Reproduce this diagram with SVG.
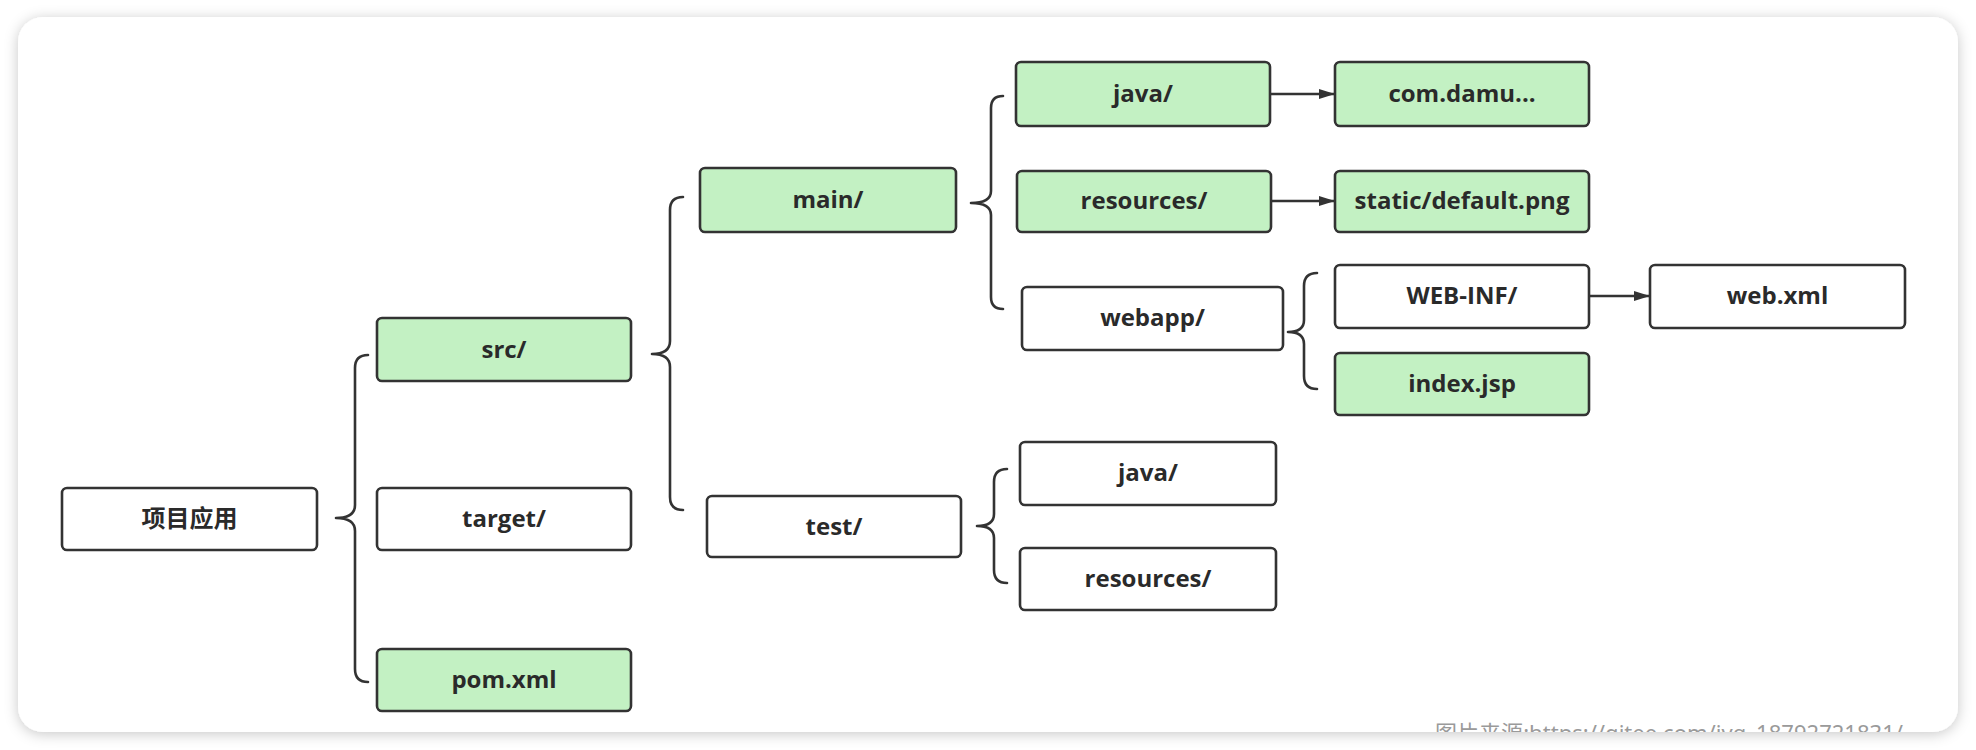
<svg xmlns="http://www.w3.org/2000/svg" width="1976" height="750" viewBox="0 0 1976 750">
<style>
.box{stroke:#333;stroke-width:2.6;}
.g{fill:#c3f1c3;}
.w{fill:#ffffff;}
.lbl{font-family:"Open Sans","Noto Sans","Noto Sans CJK SC",sans-serif;font-weight:700;font-size:24px;fill:#2a2a2a;text-anchor:middle;}
.br{fill:none;stroke:#333;stroke-width:2.6;stroke-linecap:round;stroke-linejoin:round;}
.ar{fill:none;stroke:#333;stroke-width:2.4;}
.wm{font-family:"Noto Sans","Noto Sans CJK SC",sans-serif;font-size:22px;fill:#9a9a9a;}
</style>
<defs>
<filter id="sh" x="-5%" y="-10%" width="110%" height="120%">
<feDropShadow dx="0" dy="2" stdDeviation="7" flood-color="#000" flood-opacity="0.22"/>
</filter>
<clipPath id="cardclip"><rect x="18" y="17" width="1940" height="715" rx="25"/></clipPath>
<marker id="arr" markerWidth="16" markerHeight="12" refX="15" refY="6" orient="auto" markerUnits="userSpaceOnUse">
<path d="M0,1 L16,6 L0,11 Z" fill="#333"/>
</marker>
</defs>
<rect x="0" y="0" width="1976" height="750" fill="#ffffff"/>
<rect x="18" y="17" width="1940" height="715" rx="25" fill="#ffffff" filter="url(#sh)"/>
<g clip-path="url(#cardclip)">
<text class="wm" x="1435" y="741" textLength="468">图片来源:https://gitee.com/jvq_18792721831/</text>
</g>

<g id="connectors">
<path class="br" d="M368,355 Q355,355 355,368 L355,505 Q355,518 336,518 Q355,518 355,531 L355,669 Q355,682 368,682"/>
<path class="br" d="M683,197 Q670,197 670,210 L670,341 Q670,354 652,354 Q670,354 670,367 L670,497 Q670,510 683,510"/>
<path class="br" d="M1003,96 Q991,96 991,108 L991,191 Q991,203 971,203 Q991,203 991,215 L991,297 Q991,309 1003,309"/>
<path class="br" d="M1317,273 Q1304,273 1304,286 L1304,320 Q1304,332 1288,332 Q1304,332 1304,344 L1304,376 Q1304,389 1317,389"/>
<path class="br" d="M1007,469 Q994,469 994,482 L994,514 Q994,526 977,526 Q994,526 994,538 L994,570 Q994,583 1007,583"/>
<line class="ar" x1="1271" y1="94" x2="1334" y2="94" marker-end="url(#arr)"/>
<line class="ar" x1="1272" y1="201" x2="1334" y2="201" marker-end="url(#arr)"/>
<line class="ar" x1="1590" y1="296" x2="1649" y2="296" marker-end="url(#arr)"/>
</g>

<g id="n-root"><rect class="box w" x="62" y="488" width="255" height="62" rx="5"/><text class="lbl" x="189.5" y="527" style="font-family:'Noto Sans CJK SC',sans-serif">项目应用</text></g>
<g id="n-src"><rect class="box g" x="377" y="318" width="254" height="63" rx="5"/><text class="lbl" x="504" y="358">src/</text></g>
<g id="n-target"><rect class="box w" x="377" y="488" width="254" height="62" rx="5"/><text class="lbl" x="504" y="527">target/</text></g>
<g id="n-pom"><rect class="box g" x="377" y="649" width="254" height="62" rx="5"/><text class="lbl" x="504" y="688">pom.xml</text></g>
<g id="n-main"><rect class="box g" x="700" y="168" width="256" height="64" rx="5"/><text class="lbl" x="828" y="208">main/</text></g>
<g id="n-test"><rect class="box w" x="707" y="496" width="254" height="61" rx="5"/><text class="lbl" x="834" y="535">test/</text></g>
<g id="n-main-java"><rect class="box g" x="1016" y="62" width="254" height="64" rx="5"/><text class="lbl" x="1143" y="102">java/</text></g>
<g id="n-main-resources"><rect class="box g" x="1017" y="171" width="254" height="61" rx="5"/><text class="lbl" x="1144" y="209">resources/</text></g>
<g id="n-webapp"><rect class="box w" x="1022" y="287" width="261" height="63" rx="5"/><text class="lbl" x="1152.5" y="326">webapp/</text></g>
<g id="n-com"><rect class="box g" x="1335" y="62" width="254" height="64" rx="5"/><text class="lbl" x="1462" y="102">com.damu...</text></g>
<g id="n-static"><rect class="box g" x="1335" y="171" width="254" height="61" rx="5"/><text class="lbl" x="1462" y="209">static/default.png</text></g>
<g id="n-webinf"><rect class="box w" x="1335" y="265" width="254" height="63" rx="5"/><text class="lbl" x="1462" y="304">WEB-INF/</text></g>
<g id="n-index"><rect class="box g" x="1335" y="353" width="254" height="62" rx="5"/><text class="lbl" x="1462" y="392">index.jsp</text></g>
<g id="n-webxml"><rect class="box w" x="1650" y="265" width="255" height="63" rx="5"/><text class="lbl" x="1777.5" y="304">web.xml</text></g>
<g id="n-test-java"><rect class="box w" x="1020" y="442" width="256" height="63" rx="5"/><text class="lbl" x="1148" y="481">java/</text></g>
<g id="n-test-resources"><rect class="box w" x="1020" y="548" width="256" height="62" rx="5"/><text class="lbl" x="1148" y="587">resources/</text></g>
</svg>
